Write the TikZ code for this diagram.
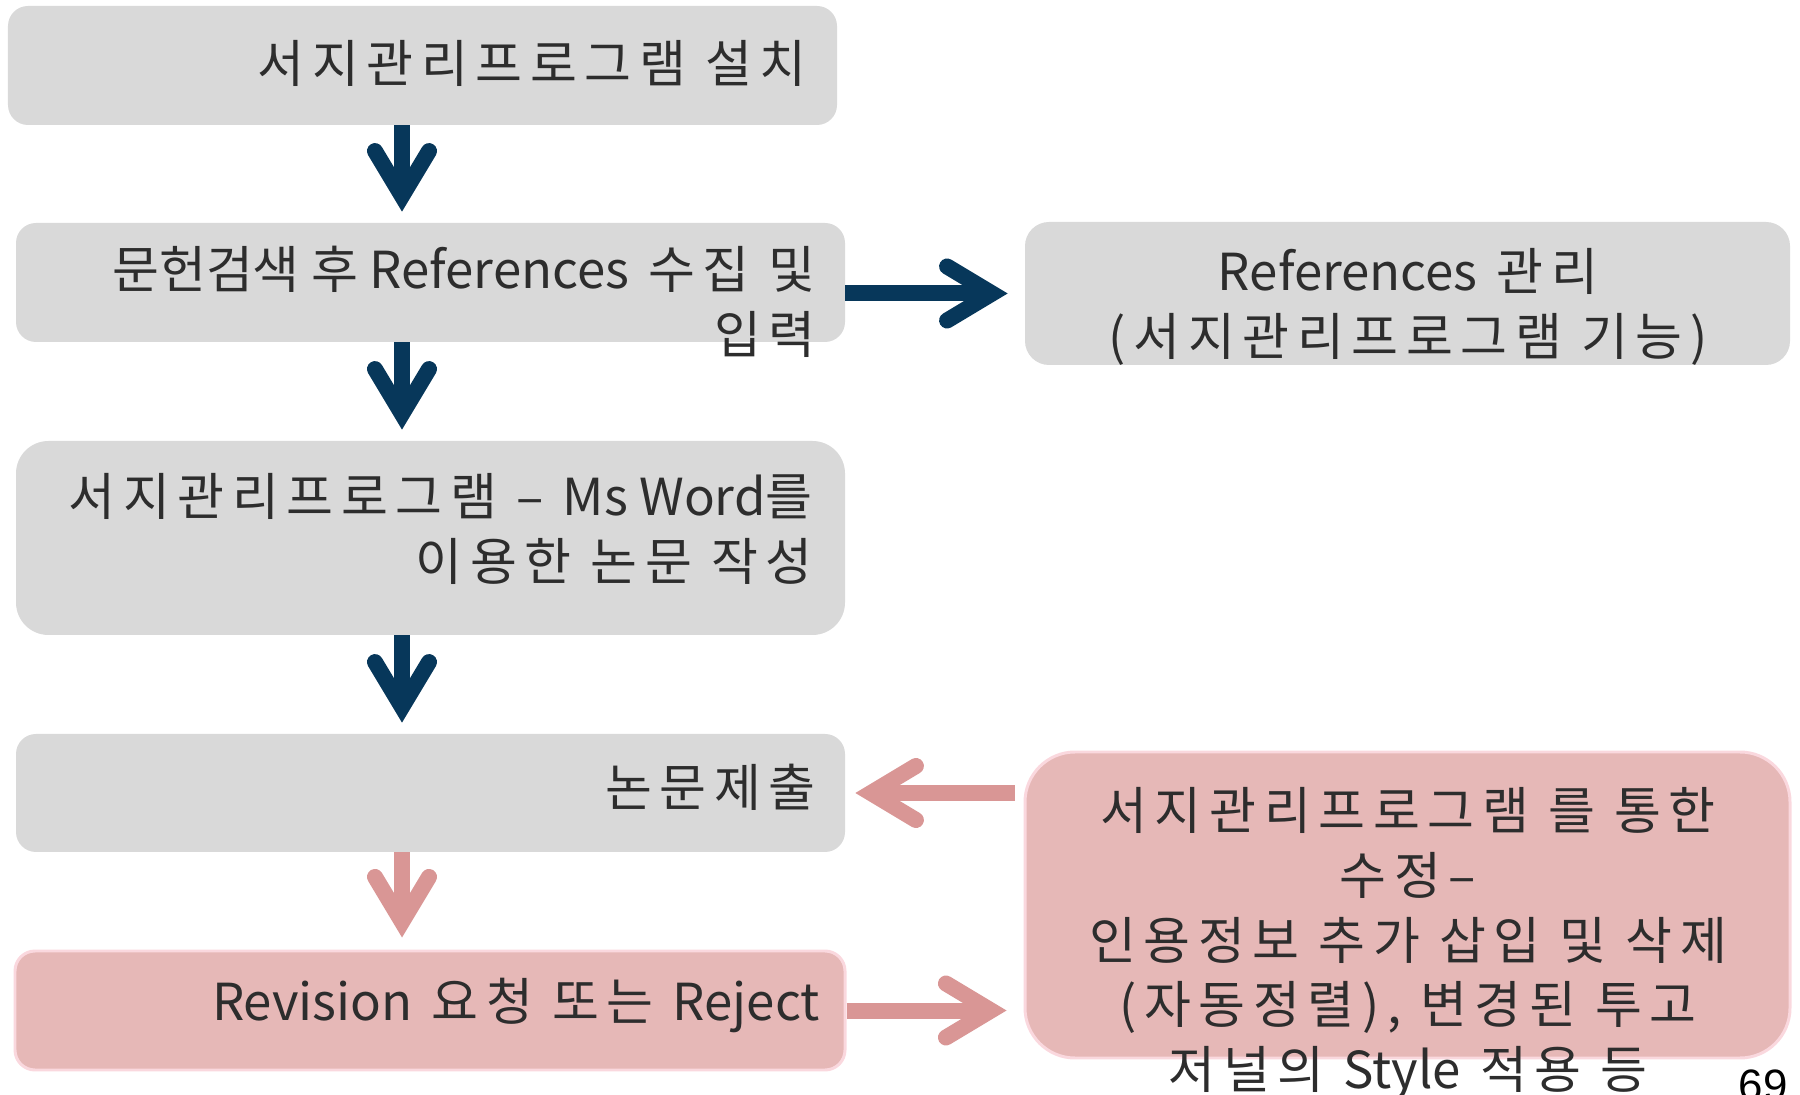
\documentclass[tikz,border=0pt]{standalone}
\usepackage{fontspec}
\setmainfont{Noto Sans CJK KR}[LetterSpace = 15]
\newfontfamily\lat{Noto Sans CJK KR}
\newfontfamily\numfont{Liberation Sans}
\usepackage{tikz}
\usetikzlibrary{arrows.meta}
\definecolor{mygray}{RGB}{217, 217, 217}
\definecolor{mynavy}{RGB}{7, 55, 90}
\definecolor{mypink}{RGB}{230, 184, 183}
\definecolor{mypink2}{RGB}{217, 150, 149}
\definecolor{mypink3}{RGB}{250, 216, 222}
\definecolor{mytext}{RGB}{45, 45, 45}
\tikzset{
  box/.style = {fill = mygray, rounded corners = 0.4cm, minimum width = 16.58cm, minimum height = 2.38cm, inner sep = 0pt},
  pinkbox/.style = {box, fill = mypink, draw = mypink3, line width = 1.7pt},
  txt/.style = {text = mytext, font = \fontsize{29}{36.8}\selectfont, inner sep = 0pt},
  navyarrow/.style = {-{Straight Barb[length = 0.9cm, width = 1.08cm, line cap = round, line join = miter]}, mynavy, line width = 0.32cm},
  pinkarrow/.style = {navyarrow, mypink2}
}

\begin{document}
\begin{tikzpicture}
\useasboundingbox (0,0) rectangle (36,21.88);
\clip (0,0) rectangle (36,21.88);

% left column
\node[box] (b1) at (8.45, 20.57) {};
\node[box] (b2) at (8.61, 16.23) {};
\node[box, minimum height = 3.88cm, rounded corners = 0.65cm] (b4) at (8.61, 11.12) {};
\node[box, minimum height = 2.36cm] (b5) at (8.61, 6.02) {};
\node[pinkbox, minimum width = 16.6cm] (b6) at (8.6, 1.67) {};

% right column
\node[box, minimum width = 15.3cm, minimum height = 2.86cm, rounded corners = 0.48cm] (b3) at (28.15, 16.01) {};
\node[pinkbox, minimum width = 15.3cm, minimum height = 6.12cm, rounded corners = 1cm] (b7) at (28.15, 3.78) {};

\node[txt, anchor = east] (t1) at (16.14, 20.62) {서지관리프로그램 설치};
\node[txt, anchor = east, align = right] (t2) at (16.32, 15.85) {{\lat 문헌검색 후 References} 수집 및\\입력};
\node[txt, align = center] (t3) at (28.16, 15.74) {{\lat References} 관리\\(서지관리프로그램 기능)};
\node[txt, anchor = east, align = right] (t4) at (16.26, 11.3) {서지관리프로그램 – {\lat Ms Word}를\\이용한 논문 작성};
\node[txt, anchor = east] (t5) at (16.32, 6.14) {논문제출};
\node[txt, anchor = east] (t6) at (16.4, 1.77) {{\lat Revision} 요청 또는 {\lat Reject}};
\node[txt, align = center] (t7) at (28.16, 3.0) {서지관리프로그램 를 통한\\수정–\\인용정보 추가 삽입 및 삭제\\(자동정렬), 변경된 투고\\저널의 {\lat Style} 적용 등};
\node[anchor = base east, inner sep = 0pt, font = \numfont\fontsize{25}{30}\selectfont] (pg) at (35.76, -0.12) {69};

% arrows
\coordinate (ax) at (8.04, 0);
\draw[navyarrow, shorten >= 0.22cm] (b1.south -| ax) -- (b2.north -| ax);
\draw[navyarrow, shorten >= 0.22cm] (b2.south -| ax) -- (b4.north -| ax);
\draw[navyarrow, shorten >= 0.22cm] (b4.south -| ax) -- (b5.north -| ax);
\draw[pinkarrow, shorten >= 0.24cm] (b5.south -| ax) -- (b6.north -| ax);
\draw[navyarrow, shorten >= 0.34cm] (b2.east |- b3.west) -- (b3.west);
\draw[pinkarrow, shorten <= 0.18cm, shorten >= 0.2cm] (b7.west |- b5.east) -- (b5.east);
\draw[pinkarrow, shorten >= 0.34cm] (b6.east) -- (b6.east -| b7.west);

\end{tikzpicture}
\end{document}
